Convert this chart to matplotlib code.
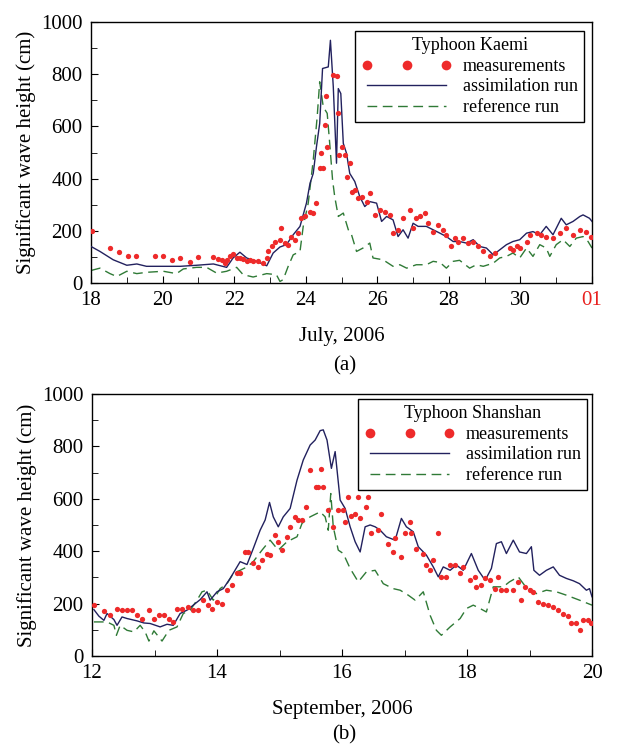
import matplotlib

matplotlib.use("Agg")
import matplotlib.pyplot as plt
from matplotlib.lines import Line2D
from matplotlib.ticker import MultipleLocator

plt.rcParams.update(
    {
        "font.family": "Liberation Serif",
        "font.size": 14,
        "axes.linewidth": 1.0,
        "xtick.direction": "in",
        "ytick.direction": "in",
        "xtick.major.size": 5,
        "ytick.major.size": 5,
        "xtick.minor.size": 4,
        "ytick.minor.size": 4,
    }
)

MEAS_COLOR = "#EE2A2A"
ASSIM_COLOR = "#22215E"
REF_COLOR = "#2F7A36"

# ---------------------------------------------------------------------------
# (a) Typhoon Kaemi, July 2006 (day of month, 32 = 01 August)
# ---------------------------------------------------------------------------
kaemi_assim_day = [
    18.00, 18.25, 18.62, 19.00, 19.28, 19.55, 20.02, 20.49, 20.95, 21.42,
    21.79, 21.97, 22.16, 22.35, 22.63, 22.91, 23.09, 23.28, 23.46, 23.65,
    23.84, 24.02, 24.12, 24.21, 24.30, 24.39, 24.47, 24.63, 24.69, 24.77,
    24.86, 24.91, 24.98, 25.05, 25.14, 25.23, 25.37, 25.51, 25.65, 25.79,
    25.98, 26.12, 26.26, 26.44, 26.58, 26.72, 26.86, 27.00, 27.14, 27.37,
    27.56, 27.75, 27.93, 28.12, 28.30, 28.49, 28.68, 28.86, 29.05, 29.24,
    29.42, 29.61, 29.79, 29.98, 30.17, 30.35, 30.54, 30.72, 30.91, 31.14,
    31.28, 31.47, 31.66, 31.75, 31.93, 32.00,
]
kaemi_assim_hs = [
    140, 121, 89, 68, 73, 64, 64, 64, 68, 73,
    60, 96, 118, 96, 83, 66, 115, 138, 147, 185,
    217, 306, 382, 420, 522, 611, 822, 828, 930, 752,
    459, 745, 726, 535, 497, 420, 389, 331, 293, 312,
    306, 236, 255, 242, 178, 204, 172, 229, 217, 217,
    204, 191, 178, 159, 159, 153, 166, 140, 134, 108,
    127, 147, 159, 166, 191, 197, 185, 217, 185, 248,
    223, 236, 255, 261, 248, 236,
]

kaemi_ref_day = [
    18.00, 18.25, 18.53, 18.72, 19.00, 19.28, 19.55, 20.02, 20.39, 20.58,
    20.95, 21.23, 21.51, 21.79, 22.07, 22.25, 22.53, 22.91, 23.18, 23.28,
    23.37, 23.51, 23.65, 23.84, 23.93, 24.07, 24.21, 24.32, 24.39, 24.49,
    24.60, 24.67, 24.75, 24.81, 24.91, 25.05, 25.19, 25.28, 25.42, 25.60,
    25.79, 25.88, 26.16, 26.44, 26.63, 26.82, 27.09, 27.37, 27.56, 27.75,
    27.93, 28.12, 28.30, 28.58, 28.77, 28.96, 29.24, 29.42, 29.61, 29.79,
    29.98, 30.17, 30.35, 30.54, 30.72, 30.82, 31.00, 31.19, 31.38, 31.56,
    31.75, 31.89, 32.00,
]
kaemi_ref_hs = [
    48, 57, 36, 25, 45, 36, 41, 45, 36, 54,
    60, 60, 38, 45, 60, 32, 23, 36, 32, 6,
    13, 64, 108, 121, 217, 306, 471, 637, 771, 675,
    650, 535, 395, 331, 255, 268, 204, 185, 121, 134,
    153, 96, 89, 64, 70, 57, 70, 70, 83, 79,
    57, 83, 87, 57, 70, 64, 76, 96, 102, 115,
    96, 134, 102, 147, 134, 102, 147, 166, 140, 172,
    178, 159, 134,
]

kaemi_meas_day = [
    18.02, 18.53, 18.78, 19.02, 19.26, 19.79, 20.02, 20.25, 20.49, 20.76,
    21.00, 21.42, 21.56, 21.65, 21.74, 21.79, 21.88, 21.97, 22.07, 22.16,
    22.25, 22.35, 22.44, 22.53, 22.67, 22.81, 22.91, 22.95, 23.05, 23.14,
    23.28, 23.32, 23.42, 23.51, 23.60, 23.70, 23.79, 23.88, 23.98, 24.12,
    24.21, 24.30, 24.39, 24.44, 24.49, 24.53, 24.58, 24.60, 24.75, 24.86,
    24.91, 24.93, 25.00, 25.09, 25.14, 25.23, 25.28, 25.37, 25.47, 25.56,
    25.70, 25.79, 25.93, 26.07, 26.21, 26.35, 26.44, 26.58, 26.72, 26.91,
    27.00, 27.09, 27.19, 27.33, 27.42, 27.56, 27.70, 27.84, 27.93, 28.07,
    28.17, 28.26, 28.40, 28.54, 28.68, 28.82, 28.96, 29.14, 29.28, 29.70,
    29.79, 29.89, 29.98, 30.17, 30.26, 30.45, 30.58, 30.72, 30.91, 31.10,
    31.28, 31.47, 31.66, 31.84, 31.98,
]
kaemi_meas_hs = [
    200, 134, 118, 104, 104, 104, 104, 89, 96, 79,
    98, 98, 92, 89, 76, 89, 102, 112, 96, 96,
    92, 85, 89, 83, 83, 76, 96, 121, 140, 159,
    166, 210, 153, 147, 178, 166, 191, 248, 257, 274,
    268, 306, 439, 497, 439, 605, 716, 522, 796, 793,
    650, 490, 522, 490, 408, 459, 350, 357, 325, 331,
    312, 344, 261, 280, 274, 261, 191, 204, 248, 278,
    210, 248, 255, 268, 229, 197, 223, 204, 185, 140,
    172, 159, 172, 153, 159, 140, 121, 102, 115, 134,
    127, 140, 134, 159, 185, 191, 185, 178, 172, 191,
    210, 185, 204, 197, 178,
]

# ---------------------------------------------------------------------------
# (b) Typhoon Shanshan, September 2006
# ---------------------------------------------------------------------------
shanshan_assim_day = [
    12.03, 12.11, 12.19, 12.24, 12.35, 12.40, 12.48, 12.56, 12.72, 12.83,
    12.93, 13.09, 13.20, 13.30, 13.41, 13.52, 13.62, 13.73, 13.84, 13.89,
    14.00, 14.10, 14.21, 14.32, 14.37, 14.48, 14.58, 14.69, 14.77, 14.84,
    14.90, 14.98, 15.06, 15.17, 15.28, 15.38, 15.49, 15.57, 15.65, 15.70,
    15.76, 15.83, 15.89, 15.97, 16.05, 16.13, 16.21, 16.29, 16.37, 16.45,
    16.53, 16.61, 16.71, 16.85, 16.95, 17.03, 17.14, 17.22, 17.35, 17.46,
    17.54, 17.62, 17.73, 17.83, 17.94, 18.07, 18.18, 18.29, 18.39, 18.47,
    18.55, 18.63, 18.74, 18.84, 18.95, 19.03, 19.07, 19.16, 19.27, 19.38,
    19.48, 19.59, 19.70, 19.80, 19.91, 19.96, 20.00,
]
shanshan_assim_hs = [
    177, 152, 136, 162, 139, 117, 149, 143, 134, 126,
    124, 111, 121, 117, 162, 175, 194, 215, 245, 213,
    245, 257, 296, 340, 360, 349, 410, 480, 519, 586,
    531, 493, 531, 563, 671, 748, 805, 824, 860, 863,
    824, 716, 780, 595, 563, 493, 436, 397, 493, 500,
    493, 480, 455, 442, 525, 493, 474, 417, 385, 340,
    302, 340, 327, 347, 327, 391, 327, 289, 334, 429,
    436, 391, 442, 397, 391, 417, 327, 308, 327, 340,
    308, 296, 287, 276, 251, 257, 226,
]

shanshan_ref_day = [
    12.03, 12.24, 12.35, 12.39, 12.45, 12.56, 12.67, 12.77, 12.85, 12.91,
    12.99, 13.12, 13.23, 13.36, 13.46, 13.57, 13.68, 13.76, 13.84, 13.94,
    14.05, 14.16, 14.26, 14.37, 14.48, 14.58, 14.72, 14.85, 14.98, 15.12,
    15.28, 15.36, 15.49, 15.65, 15.73, 15.78, 15.82, 15.86, 15.94, 16.02,
    16.13, 16.26, 16.39, 16.53, 16.66, 16.82, 16.93, 17.06, 17.17, 17.30,
    17.41, 17.51, 17.59, 17.73, 17.89, 17.99, 18.10, 18.21, 18.31, 18.42,
    18.58, 18.68, 18.82, 18.92, 19.11, 19.27, 19.43, 19.59, 19.80, 20.00,
]
shanshan_ref_hs = [
    130, 130, 117, 79, 117, 98, 92, 117, 92, 57,
    96, 57, 98, 111, 162, 175, 213, 245, 251, 213,
    257, 276, 315, 327, 340, 360, 404, 442, 404, 436,
    455, 506, 531, 550, 531, 480, 620, 493, 404, 391,
    334, 283, 321, 327, 276, 257, 251, 232, 213, 245,
    155, 98, 79, 111, 143, 181, 194, 181, 168, 264,
    264, 283, 302, 270, 238, 251, 245, 232, 213, 194,
]

shanshan_meas_day = [
    12.03, 12.19, 12.29, 12.40, 12.48, 12.56, 12.64, 12.72, 12.80, 12.91,
    12.99, 13.07, 13.15, 13.23, 13.30, 13.36, 13.44, 13.54, 13.62, 13.70,
    13.78, 13.86, 13.92, 14.00, 14.08, 14.16, 14.24, 14.32, 14.37, 14.45,
    14.50, 14.58, 14.66, 14.72, 14.80, 14.85, 14.93, 14.98, 15.04, 15.12,
    15.17, 15.25, 15.30, 15.36, 15.42, 15.49, 15.58, 15.62, 15.66, 15.70,
    15.78, 15.86, 15.94, 16.02, 16.05, 16.10, 16.15, 16.21, 16.26, 16.29,
    16.39, 16.42, 16.47, 16.58, 16.63, 16.74, 16.82, 16.85, 16.95, 17.01,
    17.09, 17.11, 17.19, 17.30, 17.35, 17.41, 17.46, 17.54, 17.59, 17.67,
    17.73, 17.81, 17.89, 17.94, 18.05, 18.13, 18.15, 18.23, 18.29, 18.36,
    18.44, 18.50, 18.55, 18.63, 18.74, 18.82, 18.87, 18.92, 19.00, 19.06,
    19.14, 19.22, 19.30, 19.38, 19.46, 19.54, 19.62, 19.67, 19.75, 19.80,
    19.86, 19.94, 19.99,
]
shanshan_meas_hs = [
    194, 172, 155, 181, 177, 177, 175, 155, 143, 177,
    143, 155, 155, 143, 130, 181, 181, 187, 175, 175,
    213, 194, 181, 206, 200, 251, 270, 315, 315, 397,
    397, 353, 340, 366, 391, 385, 461, 436, 404, 455,
    493, 531, 519, 519, 567, 710, 646, 643, 713, 646,
    557, 493, 557, 557, 512, 608, 536, 541, 608, 525,
    570, 608, 469, 480, 541, 429, 397, 449, 378, 469,
    512, 469, 410, 391, 347, 327, 366, 469, 302, 302,
    347, 347, 315, 340, 289, 302, 264, 270, 296, 289,
    257, 302, 251, 251, 251, 283, 213, 264, 251, 245,
    206, 200, 194, 187, 175, 159, 152, 127, 127, 98,
    136, 136, 124,
]


def draw_panel(ax, meas, assim, ref, title, xlim, xticks, xticklabels, xlabel, legend_anchor):
    ax.plot(*assim, color=ASSIM_COLOR, lw=1.0, zorder=3)
    ax.plot(*ref, color=REF_COLOR, lw=1.0, dashes=(7, 4), zorder=2)
    ax.plot(*meas, ls="none", marker="o", ms=3.8, mew=0, color=MEAS_COLOR, zorder=4)

    ax.set_xlim(*xlim)
    ax.set_ylim(0, 1000)
    ax.set_xticks(xticks)
    ax.set_xticklabels(xticklabels)
    ax.xaxis.set_minor_locator(MultipleLocator(1))
    ax.yaxis.set_major_locator(MultipleLocator(200))
    ax.yaxis.set_minor_locator(MultipleLocator(100))
    ax.tick_params(which="both", top=False, right=False, labelsize=15, pad=6)
    ax.set_ylabel("Significant wave height (cm)", fontsize=15, labelpad=4)
    ax.set_xlabel(xlabel, fontsize=15, labelpad=12)

    handles = [
        Line2D([], [], ls="none", marker="o", ms=7, mew=0, color=MEAS_COLOR),
        Line2D([], [], color=ASSIM_COLOR, lw=1.0),
        Line2D([], [], color=REF_COLOR, lw=1.0, dashes=(7, 4)),
    ]
    leg = ax.legend(
        handles,
        ["measurements", "assimilation run", "reference run"],
        title=title,
        loc="upper right",
        bbox_to_anchor=legend_anchor,
        numpoints=3,
        handlelength=5.0,
        handletextpad=0.6,
        labelspacing=0.2,
        borderpad=0.35,
        borderaxespad=0,
        fancybox=False,
        framealpha=1,
        edgecolor="black",
        fontsize=13,
        title_fontsize=13,
    )
    leg.get_frame().set_linewidth(1.0)


fig = plt.figure(figsize=(6.26, 7.44), dpi=100)
ax_a = fig.add_axes([0.1454, 0.6196, 0.8003, 0.3508])
ax_b = fig.add_axes([0.1470, 0.1183, 0.7987, 0.3522])

draw_panel(
    ax_a,
    (kaemi_meas_day, kaemi_meas_hs),
    (kaemi_assim_day, kaemi_assim_hs),
    (kaemi_ref_day, kaemi_ref_hs),
    "Typhoon Kaemi",
    (18, 32),
    [18, 20, 22, 24, 26, 28, 30, 32],
    ["18", "20", "22", "24", "26", "28", "30", "01"],
    "July, 2006",
    (0.984, 0.966),
)
ax_a.get_xticklabels()[-1].set_color("#E8201E")

draw_panel(
    ax_b,
    (shanshan_meas_day, shanshan_meas_hs),
    (shanshan_assim_day, shanshan_assim_hs),
    (shanshan_ref_day, shanshan_ref_hs),
    "Typhoon Shanshan",
    (12, 20),
    [12, 14, 16, 18, 20],
    ["12", "14", "16", "18", "20"],
    "September, 2006",
    (0.99, 0.981),
)

fig.text(0.55, 1 - 366 / 744, "(a)", ha="center", va="center", fontsize=15)
fig.text(0.55, 1 - 735 / 744, "(b)", ha="center", va="center", fontsize=15)

fig.savefig("out.png", dpi=100)
